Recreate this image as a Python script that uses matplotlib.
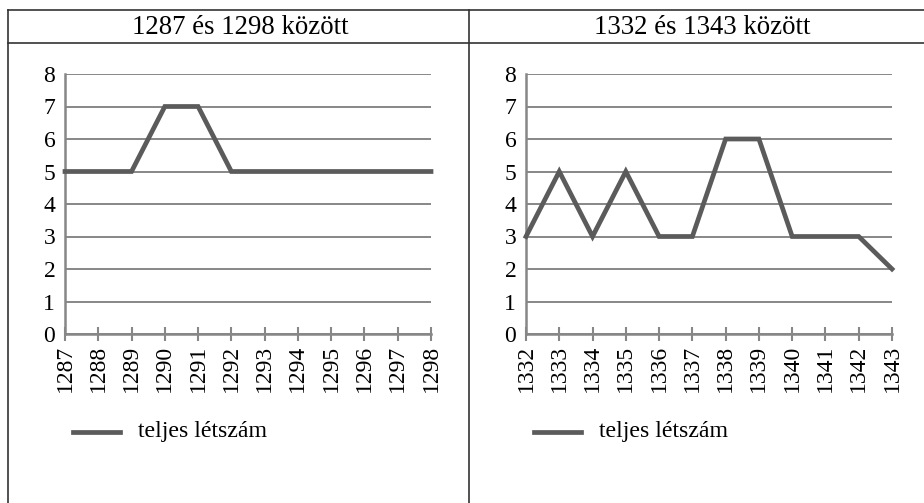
import matplotlib
matplotlib.use("Agg")
import matplotlib.pyplot as plt
from matplotlib.lines import Line2D

plt.rcParams['font.family'] = ['Liberation Serif', 'DejaVu Serif']

years_left = [1287, 1288, 1289, 1290, 1291, 1292, 1293, 1294, 1295, 1296, 1297, 1298]
values_left = [5, 5, 5, 7, 7, 5, 5, 5, 5, 5, 5, 5]
years_right = [1332, 1333, 1334, 1335, 1336, 1337, 1338, 1339, 1340, 1341, 1342, 1343]
values_right = [3, 5, 3, 5, 3, 3, 6, 6, 3, 3, 3, 2]
titles = ["1287 és 1298 között", "1332 és 1343 között"]
legend_label = "teljes létszám"
yticks = list(range(0, 9))

W, H = 924, 503
fig = plt.figure(figsize=(W / 100, H / 100), dpi=100)

FS_TICK = 17
FS_TITLE = 19.3
FS_LEG = 17.2
GRID = '#878787'
LINE = '#5b5b5b'
BORDER = '#333333'

def fx(px):
    return px / W

def fy(py):
    return 1 - py / H

# table borders
for (x0, y0, x1, y1) in [(8, 9.5, 924, 9.5), (8, 43, 924, 43), (8, 9.5, 8, 503), (469, 9.5, 469, 503)]:
    fig.add_artist(Line2D([fx(x0), fx(x1)], [fy(y0), fy(y1)], color=BORDER, lw=1.2,
                          transform=fig.transFigure))

panels = [
    (65, years_left, values_left, titles[0], 240),
    (526, years_right, values_right, titles[1], 702),
]
for left_px, years, vals, title, tcx in panels:
    ax = fig.add_axes([fx(left_px), fy(334), (431 - 65) / W, (334 - 74) / H])
    ax.set_xlim(0, len(years) - 1)
    ax.set_ylim(0, 8)
    ax.set_yticks(yticks)
    ax.set_xticks(range(len(years)))
    ax.set_xticklabels([str(y) for y in years], rotation=90, fontsize=FS_TICK)
    ax.set_yticklabels([str(v) for v in yticks], fontsize=FS_TICK)
    ax.grid(axis='y', color=GRID, lw=1.4, zorder=1)
    ax.set_axisbelow(True)
    for s in ['top', 'right']:
        ax.spines[s].set_visible(False)
    for s in ['left', 'bottom']:
        ax.spines[s].set_color(GRID)
        ax.spines[s].set_linewidth(1.8)
        ax.spines[s].set_zorder(2)
    ax.tick_params(axis='y', length=0, pad=7)
    ax.tick_params(axis='x', direction='inout', length=9.5, width=1.5, color=GRID, pad=3)
    ax.plot(range(len(years)), vals, color=LINE, lw=3.4, clip_on=False, zorder=3,
            solid_joinstyle='miter')
    fig.text(fx(tcx), fy(27), title, ha='center', va='center', fontsize=FS_TITLE)
    # legend
    lx = left_px + 8
    fig.add_artist(Line2D([fx(lx), fx(lx + 47)], [fy(432), fy(432)], color=LINE, lw=3.4,
                          transform=fig.transFigure))
    fig.text(fx(lx + 65), fy(432), legend_label, ha='left', va='center', fontsize=FS_LEG)

fig.savefig("out.png", dpi=100)
